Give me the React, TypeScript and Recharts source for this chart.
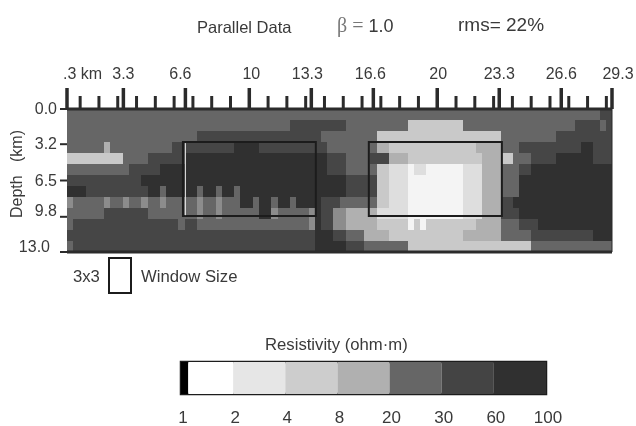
import { Bar, BarChart, ComposedChart, ReferenceArea, ReferenceLine, Scatter, XAxis, YAxis } from 'recharts';

const INK = '#2b2b2b';
const TEXT = '#3a3a3a';
const FONT = '"Liberation Sans", Arial, sans-serif';

// km labels along the top, minor marks every km
const majorTicks = [0.3, 3.3, 6.6, 10, 13.3, 16.6, 20, 23.3, 26.6, 29.3];
const majorLabels = ['.3 km', '3.3', '6.6', '10', '13.3', '16.6', '20', '23.3', '26.6', '29.3'];
const minorTicks = [1, 2, 3, 4, 5, 6, 7, 8, 9, 11, 12, 13, 14, 15, 16, 17, 18, 19, 21, 22, 23, 24, 25, 26, 27, 28, 29];
const depthTicks = [0, 3.2, 6.5, 9.8, 13];

// resistivity classes, 0 = most resistive bin, 7 = the odd mid-grey cells
const levelColors = ['#f4f4f4', '#dedede', '#c9c9c9', '#b0b0b0', '#666666', '#464646', '#303030', '#8c8c8c'];

// one list per 1 km depth row: [cell the run stops at, class]
const row0 = [[86, 4], [88, 5]];
const row1 = [[36, 4], [45, 5], [55, 4], [64, 2], [82, 4], [86, 5], [87, 4], [88, 5]];
const row2 = [[21, 4], [41, 5], [50, 4], [70, 2], [79, 4], [88, 5]];
const row3 = [[6, 4], [7, 3], [17, 4], [27, 5], [31, 6], [42, 5], [50, 4], [52, 3], [66, 2], [70, 3], [73, 4], [83, 5], [85, 6], [88, 5]];
const row4 = [[9, 2], [13, 4], [19, 5], [42, 6], [45, 5], [49, 4], [52, 5], [55, 3], [67, 2], [70, 3], [72, 2], [75, 4], [79, 5], [85, 6], [88, 5]];
const row5 = [[10, 4], [15, 5], [42, 6], [45, 5], [50, 4], [52, 2], [55, 1], [56, 0], [58, 1], [64, 0], [67, 1], [70, 3], [73, 4], [75, 5], [88, 6]];
const row6 = [[12, 5], [45, 6], [50, 5], [52, 2], [55, 1], [64, 0], [67, 1], [70, 3], [73, 4], [88, 6]];
const row7 = [[3, 6], [13, 5], [15, 6], [16, 4], [21, 6], [22, 4], [24, 6], [25, 4], [27, 6], [28, 4], [45, 6], [50, 5], [52, 2], [55, 1], [64, 0], [67, 1], [70, 3], [73, 4], [88, 6]];
const row8 = [[1, 7], [6, 4], [7, 7], [9, 4], [10, 7], [12, 4], [13, 7], [15, 4], [16, 7], [21, 4], [22, 7], [24, 4], [25, 7], [28, 4], [30, 6], [31, 4], [33, 6], [34, 4], [36, 6], [37, 4], [41, 6], [44, 5], [50, 4], [52, 2], [55, 1], [64, 0], [67, 1], [70, 3], [72, 5], [88, 6]];
const row9 = [[6, 4], [13, 5], [21, 4], [22, 7], [24, 4], [25, 7], [31, 4], [33, 6], [34, 7], [39, 4], [40, 7], [41, 6], [43, 5], [45, 7], [50, 3], [55, 1], [64, 0], [67, 1], [70, 3], [73, 5], [88, 6]];
const row10 = [[1, 4], [18, 5], [19, 4], [21, 5], [39, 4], [40, 7], [41, 6], [43, 5], [45, 7], [50, 3], [55, 2], [56, 0], [57, 2], [58, 0], [66, 2], [70, 3], [73, 4], [76, 5], [88, 6]];
const row11 = [[40, 5], [43, 6], [45, 5], [48, 4], [52, 3], [64, 2], [70, 3], [75, 4], [85, 5], [88, 6]];
const row12 = [[1, 4], [40, 5], [45, 6], [48, 5], [55, 4], [75, 2], [88, 4]];
const depthRows = [row0, row1, row2, row3, row4, row5, row6, row7, row8, row9, row10, row11, row12];

// 3x3 windows, [km from, km to, depth from, depth to]
const windows = [
  [6.47, 13.54, 3.0, 9.73],
  [16.36, 23.44, 3.0, 9.73],
];

const scaleStops = ['1', '2', '4', '8', '20', '30', '60', '100'];
const scaleSegments = [0.14, 0.86, 1, 1, 1, 1, 1, 1];
const scaleColors = ['#000000', '#ffffff', '#e6e6e6', '#cdcdcd', '#b0b0b0', '#666666', '#444444', '#303030'];

const START_KM = 0.3;
const CELL_KM = 29 / 88;

const cells = depthRows.flatMap((runs, row) => {
  let from = 0;
  return runs.map(([until, level]) => {
    const cell = { row, from, until, level };
    from = until;
    return cell;
  });
});

const anchors = [{ km: START_KM, depth: 0 }, { km: 29.3, depth: 13 }];

const scaleRow: Record<string, number | string> = { name: 'scale' };
scaleSegments.forEach((w, i) => {
  scaleRow[`s${i}`] = w;
});

const majorShift = [-4, 0, -5, 2, -4, -3, 1, 0, 0, 6];
const depthShiftX = [0, 0, 0, 0, -7];
const depthShiftY = [0, 0, 0, -6, -5];

const MajorTick = ({ x, y, index }: any) => (
  <text
    x={x + majorShift[index]}
    y={y - 7}
    textAnchor={index === 0 ? 'start' : 'middle'}
    fontSize={16}
    fontFamily={FONT}
    fill={TEXT}
  >
    {majorLabels[index]}
  </text>
);

const DepthTick = ({ x, y, index, payload }: any) => (
  <text
    x={x + depthShiftX[index]}
    y={y + depthShiftY[index] + 5}
    textAnchor="end"
    fontSize={16}
    fontFamily={FONT}
    fill={TEXT}
  >
    {payload.value.toFixed(1)}
  </text>
);

const note = (text: string, left: number, top: number, size = 16.7) => (
  <div
    style={{
      position: 'absolute',
      left,
      top,
      fontSize: size,
      lineHeight: '20px',
      fontFamily: FONT,
      color: TEXT,
      whiteSpace: 'pre',
    }}
  >
    {text}
  </div>
);

export default function App() {
  return (
    <div style={{ position: 'absolute', left: 0, top: 0, width: 636, height: 426, background: '#fff', overflow: 'hidden', filter: 'blur(0.4px)' }}>
      <ComposedChart width={636} height={300} data={anchors} margin={{ top: 107, right: 24, bottom: 48, left: 27 }} style={{ position: 'absolute', left: 0, top: 0 }}>
        <XAxis
          xAxisId="major"
          dataKey="km"
          orientation="top"
          type="number"
          domain={[START_KM, 29.3]}
          ticks={majorTicks}
          interval={0}
          height={1}
          tickSize={21}
          tick={MajorTick}
          tickLine={{ stroke: INK, strokeWidth: 3.5 }}
          axisLine={false}
        />
        <XAxis
          xAxisId="minor"
          dataKey="km"
          orientation="top"
          type="number"
          domain={[START_KM, 29.3]}
          ticks={minorTicks}
          interval={0}
          height={1}
          tickSize={12}
          tick={() => <g />}
          tickLine={{ stroke: INK, strokeWidth: 3 }}
          axisLine={false}
        />
        <YAxis
          yAxisId="depth"
          dataKey="depth"
          type="number"
          domain={[0, 13]}
          reversed
          ticks={depthTicks}
          interval={0}
          width={40}
          tickSize={7}
          tickMargin={3}
          tick={DepthTick}
          tickLine={{ stroke: INK, strokeWidth: 2 }}
          axisLine={false}
        />
        <Scatter xAxisId="major" yAxisId="depth" dataKey="depth" fill="none" isAnimationActive={false} />
        <Scatter xAxisId="minor" yAxisId="depth" dataKey="depth" fill="none" isAnimationActive={false} />
        {cells.map((c, i) => (
          <ReferenceArea
            key={i}
            xAxisId="major"
            yAxisId="depth"
            x1={START_KM + c.from * CELL_KM}
            x2={START_KM + c.until * CELL_KM}
            y1={c.row}
            y2={c.row + 1}
            fill={levelColors[c.level]}
            fillOpacity={1}
            stroke="none"
            ifOverflow="visible"
            shapeRendering="crispEdges"
          />
        ))}
        <ReferenceLine xAxisId="major" yAxisId="depth" y={13} stroke={INK} strokeWidth={3} ifOverflow="visible" />
        <ReferenceLine xAxisId="major" yAxisId="depth" x={29.3} stroke={INK} strokeWidth={1} ifOverflow="visible" />
        <ReferenceLine xAxisId="major" yAxisId="depth" y={0} stroke={INK} strokeWidth={3} ifOverflow="visible" />
        <ReferenceLine xAxisId="major" yAxisId="depth" segment={[{ x: 6.6, y: 3.1 }, { x: 6.6, y: 9.65 }]} stroke="#e8e8e8" strokeWidth={1} />
        {windows.map(([x1, x2, y1, y2], i) => (
          <ReferenceArea
            key={`w${i}`}
            xAxisId="major"
            yAxisId="depth"
            x1={x1}
            x2={x2}
            y1={y1}
            y2={y2}
            fill="none"
            stroke="#1c1c1c"
            strokeWidth={2}
            ifOverflow="visible"
          />
        ))}
      </ComposedChart>

      <div
        style={{
          position: 'absolute',
          left: 17,
          top: 174,
          transform: 'translate(-50%, -50%) rotate(-90deg)',
          fontSize: 16,
          fontFamily: FONT,
          color: TEXT,
          whiteSpace: 'pre',
        }}
      >
        {'Depth   (km)'}
      </div>

      {note('Parallel Data', 197, 17, 16.5)}
      <div style={{ position: 'absolute', left: 337, top: 15, fontSize: 18, lineHeight: '20px', fontFamily: FONT, color: TEXT, whiteSpace: 'pre' }}>
        <span style={{ color: '#777', fontFamily: '"Liberation Serif", serif', fontSize: 20 }}>β = </span>1.0
      </div>
      {note('rms= 22%', 458, 15, 19)}

      {note('3x3', 73, 267)}
      <div style={{ position: 'absolute', left: 108, top: 257, width: 20, height: 33, border: '2px solid #1c1c1c' }} />
      {note('Window Size', 141, 267)}

      <BarChart
        width={636}
        height={426}
        layout="vertical"
        data={[scaleRow]}
        barCategoryGap={0}
        margin={{ top: 362, right: 90, bottom: 0, left: 181 }}
        style={{ position: 'absolute', left: 0, top: 0 }}
      >
        <XAxis
          type="number"
          domain={[0, 7]}
          ticks={[0, 1, 2, 3, 4, 5, 6, 7]}
          interval={0}
          height={32}
          tickFormatter={(v: number) => scaleStops[v]}
          tick={{ fontSize: 17, fontFamily: FONT, fill: TEXT, dy: 9, dx: 2 }}
          tickLine={false}
          axisLine={false}
        />
        <YAxis type="category" dataKey="name" hide />
        {scaleSegments.map((_, i) => (
          <Bar key={i} dataKey={`s${i}`} stackId="scale" fill={scaleColors[i]} isAnimationActive={false} />
        ))}
        <ReferenceArea x1={0} x2={7} fill="none" stroke="#1c1c1c" strokeWidth={2.5} ifOverflow="visible" />
      </BarChart>
      {note('Resistivity (ohm·m)', 265, 335)}
    </div>
  );
}
